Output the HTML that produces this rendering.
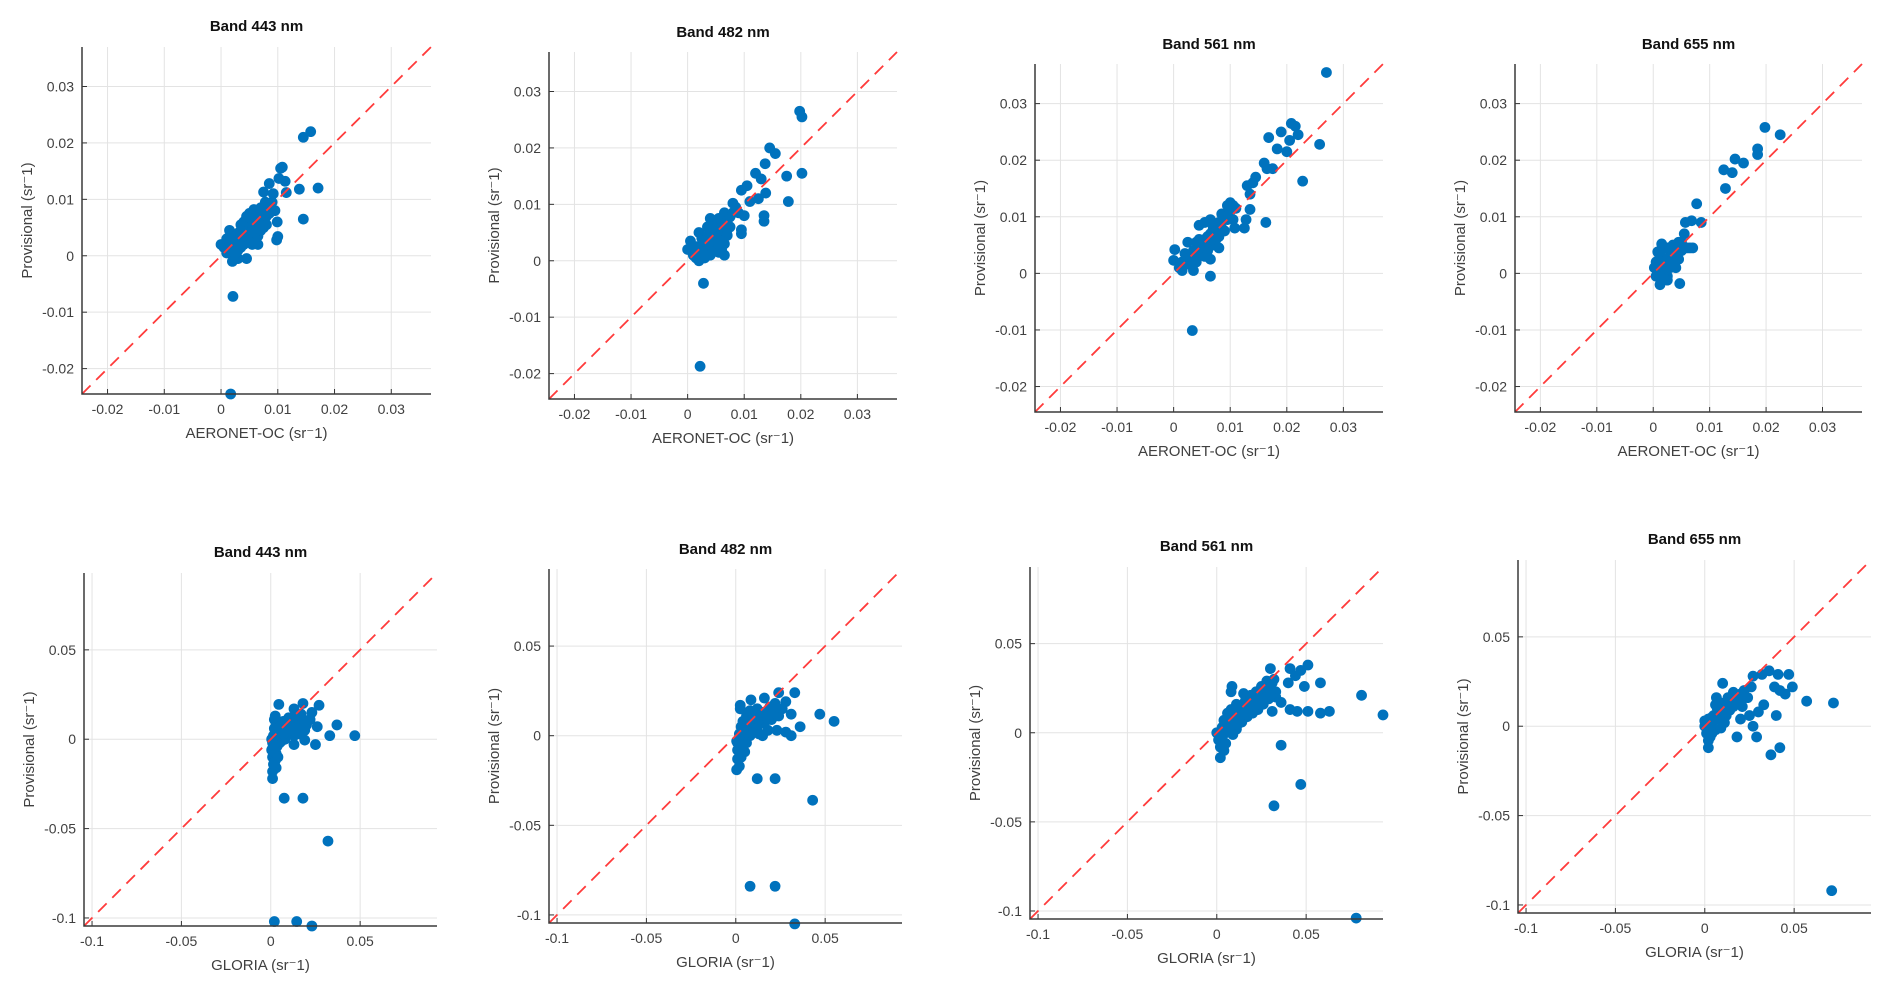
<!DOCTYPE html>
<html><head><meta charset="utf-8"><title>Band scatter comparison</title>
<style>
html,body{margin:0;padding:0;background:#fff;}
svg{display:block;font-family:"Liberation Sans",Arial,sans-serif;}
</style></head>
<body>
<svg id="fig" width="1892" height="994" viewBox="0 0 1892 994" xmlns="http://www.w3.org/2000/svg"></svg>
<script>
// ---- data (x = reference, y = provisional) ----
const bandNames = ["Band 443 nm","Band 482 nm","Band 561 nm","Band 655 nm"];
const topTicks = [-0.02,-0.01,0,0.01,0.02,0.03];
const topTickLabels = ["-0.02","-0.01","0","0.01","0.02","0.03"];
const bottomTicks = [-0.1,-0.05,0,0.05];
const bottomTickLabels = ["-0.1","-0.05","0","0.05"];

const aeronet443 = [[0.0145,0.021],[0.0158,0.022],[0.0105,0.0155],[0.0108,0.0157],[0.0113,0.0132],[0.0102,0.0137],[0.0115,0.0112],[0.0138,0.0118],[0.0171,0.012],[0.0145,0.0065],[0.0098,0.0028],[0.01,0.0034],[0.0099,0.006],[0.0021,-0.0072],[0.0017,-0.0245],[0.0085,0.0128],[0.0075,0.0113],[0.0092,0.011],
[0,0.002],[0.0005,0.0015],[0.001,0.001],[0.001,0.003],[0.0015,0.0025],[0.002,0.0005],[0.002,-0.001],[0.0025,0.002],[0.003,0.004],[0.003,0.001],[0.0035,0.003],[0.004,0.005],[0.004,0.002],[0.0045,0.0035],[0.005,0.006],[0.005,0.004],[0.0055,0.002],[0.006,0.005],[0.006,0.0075],[0.0065,0.0035],[0.007,0.006],[0.007,0.0085],[0.0075,0.005],[0.008,0.007],[0.0085,0.009],[0.0095,0.008],[0.0045,-0.0005],[0.003,-0.0005],[0.0015,0.0045],[0.0035,0.0055],[0.005,0.0075],[0.0065,0.002],[0.0055,0.0065],[0.0025,0.0035],[0.004,0.006],[0.001,0.0005],[0.0078,0.0095],[0.0058,0.0082],
[0.002,0.003],[0.0035,0.0015],[0.0045,0.005],[0.0055,0.0045],[0.006,0.003],[0.007,0.0045],[0.0075,0.007],[0.008,0.0055],[0.0085,0.0075],[0.005,0.0025],[0.004,0.0035],[0.003,0.0025],[0.0025,0.0005],[0.0065,0.006],[0.0045,0.007],[0.0035,0.0045],[0.0015,0.001],[0.009,0.0095],[0.0068,0.0072],[0.0055,0.0055]];
const aeronet482 = [[0.0198,0.0265],[0.0202,0.0255],[0.0145,0.02],[0.0155,0.019],[0.0137,0.0172],[0.0175,0.015],[0.0202,0.0155],[0.0178,0.0105],[0.0135,0.008],[0.0135,0.007],[0.0095,0.0055],[0.0095,0.0048],[0.012,0.0155],[0.013,0.0145],[0.0138,0.012],[0.0125,0.011],[0.011,0.0105],[0.0095,0.0125],[0.0105,0.0133],[0.008,0.0102],[0.01,0.008],[0.0028,-0.004],[0.0022,-0.0187],
[0,0.002],[0.0005,0.0035],[0.001,0.001],[0.0015,0.0005],[0.002,0],[0.002,0.0025],[0.0025,0.004],[0.002,0.005],[0.003,0.002],[0.003,0.0005],[0.0035,0.003],[0.004,0.005],[0.004,0.0075],[0.0045,0.002],[0.005,0.006],[0.005,0.0035],[0.0055,0.0075],[0.006,0.005],[0.0065,0.003],[0.0065,0.0085],[0.007,0.007],[0.0075,0.006],[0.0065,0.001],[0.006,0.002],[0.0045,0.0045],[0.0035,0.006],[0.0085,0.0095],[0.009,0.0085],[0.0055,0.0015],
[0.0025,0.0015],[0.0035,0.0045],[0.0045,0.0035],[0.0055,0.005],[0.006,0.0065],[0.007,0.0045],[0.0075,0.0078],[0.004,0.001],[0.005,0.0045],[0.003,0.0035],[0.0015,0.0025],[0.006,0.0035],[0.0055,0.003],[0.0045,0.006],[0.008,0.0085],[0.007,0.0055]];
const aeronet561 = [[0.027,0.0355],[0.0208,0.0265],[0.0215,0.026],[0.019,0.025],[0.0168,0.024],[0.0205,0.0235],[0.022,0.0245],[0.0258,0.0228],[0.0183,0.022],[0.02,0.0215],[0.0228,0.0163],[0.016,0.0195],[0.0165,0.0185],[0.0175,0.0185],[0.0145,0.017],[0.013,0.0155],[0.014,0.016],[0.0135,0.014],[0.0135,0.0113],[0.0163,0.009],[0.0128,0.0095],[0.0125,0.008],[0.01,0.0125],[0.0095,0.012],[0.011,0.0115],[0.0105,0.0095],[0.0085,0.0105],[0.0065,-0.0005],[0.0033,-0.0101],[0.0108,0.008],
[0.0002,0.0042],[0,0.0023],[0.001,0.001],[0.0015,0.0005],[0.002,0.002],[0.002,0.0035],[0.0025,0.0055],[0.003,0.003],[0.0035,0.0005],[0.004,0.004],[0.004,0.002],[0.0045,0.006],[0.005,0.005],[0.0055,0.009],[0.0055,0.003],[0.006,0.0065],[0.0065,0.0025],[0.007,0.008],[0.007,0.005],[0.0075,0.006],[0.008,0.0045],[0.008,0.009],[0.009,0.0075],[0.0095,0.0095],[0.0045,0.0085],[0.003,0.0015],[0.006,0.004],[0.0065,0.0095],
[0.0025,0.0025],[0.0035,0.004],[0.005,0.0035],[0.006,0.0055],[0.0065,0.007],[0.0075,0.0075],[0.008,0.0065],[0.0085,0.008],[0.009,0.01],[0.01,0.011],[0.0105,0.012],[0.004,0.0055],[0.0035,0.0025],[0.0045,0.0045],[0.0055,0.006],[0.007,0.0065],[0.0015,0.002]];
const aeronet655 = [[0.0198,0.0258],[0.0225,0.0245],[0.0185,0.022],[0.0185,0.021],[0.0145,0.0202],[0.016,0.0195],[0.0125,0.0183],[0.014,0.0178],[0.0128,0.015],[0.0077,0.0123],[0.0057,0.009],[0.0068,0.0093],[0.0085,0.009],[0.0047,-0.0018],[0.007,0.0045],[0.0055,0.007],
[0.0002,0.001],[0.0005,0.002],[0.0005,-0.0005],[0.001,0.0035],[0.001,0],[0.0012,-0.002],[0.0015,0.0015],[0.002,0.0025],[0.002,0.0005],[0.0025,0.0045],[0.0025,-0.0005],[0.003,0.003],[0.003,0.001],[0.0035,0.005],[0.0035,0.002],[0.004,0.0035],[0.004,0.001],[0.0045,0.0055],[0.005,0.004],[0.0055,0.0045],[0.0015,0.0052],[0.0008,0.0038],[0.0025,-0.0012],[0.0045,0.0025],
[0.001,0.002],[0.0015,0.003],[0.002,0.0015],[0.0025,0.0025],[0.003,0.002],[0.0035,0.0035],[0.004,0.0045],[0.0045,0.004],[0.005,0.0055],[0.006,0.0045],[0.0065,0.0045],[0.0005,0.0008],[0.002,-0.001],[0.003,0.0045],[0.0015,-0.0008]];
const gloria443 = [[0.0045,0.0195],[0.018,0.02],[0.027,0.019],[0.0025,0.013],[0.013,0.017],[0.023,0.015],[0.026,0.007],[0.037,0.008],[0.033,0.002],[0.047,0.002],[0.025,-0.003],[0.019,-0.0005],[0.013,-0.003],[0.0075,-0.033],[0.018,-0.033],[0.032,-0.057],[0.002,-0.102],[0.0145,-0.102],[0.023,-0.1045],
[0.001,-0.022],[0.001,-0.018],[0.0015,-0.014],[0.003,-0.016],[0.001,-0.01],[0.0005,-0.006],[0.002,-0.007],[0.001,-0.002],[0.0015,0.002],[0.002,0.006],[0.003,0.009],[0.002,0.011],[0.004,0.003],[0.005,-0.002],[0.005,0.007],[0.006,0.004],[0.007,0.01],[0.008,0],[0.009,0.006],[0.01,0.003],[0.011,0.008],[0.012,0.012],[0.014,0.006],[0.015,0.01],[0.016,0.003],[0.017,0.014],[0.02,0.008],[0.022,0.011],[0.019,0.005],[0.0035,-0.004],[0.006,-0.001],[0.0005,0],[0.003,0.001],[0.008,0.005],[0.013,0.002],[0.01,0.012],[0.0025,-0.012],
[0.001,-0.005],[0.002,-0.003],[0.003,-0.008],[0.002,0.002],[0.004,0.006],[0.006,0.008],[0.007,0.003],[0.009,0.01],[0.011,0.005],[0.012,0.009],[0.014,0.012],[0.016,0.008],[0.018,0.011],[0.004,-0.01],[0.002,-0.014]];
const gloria482 = [[0.033,0.024],[0.024,0.024],[0.0085,0.02],[0.016,0.021],[0.0025,0.017],[0.0025,0.015],[0.022,0.018],[0.028,0.019],[0.031,0.012],[0.047,0.012],[0.055,0.008],[0.036,0.005],[0.023,0.003],[0.028,0.002],[0.031,0],[0.012,-0.024],[0.022,-0.024],[0.043,-0.036],[0.008,-0.084],[0.022,-0.084],[0.033,-0.105],
[0.0005,-0.019],[0.002,-0.017],[0.001,-0.013],[0.003,-0.012],[0.001,-0.008],[0.0005,-0.003],[0.003,-0.006],[0.005,-0.009],[0.002,0.001],[0.003,0.005],[0.004,0.008],[0.005,0.002],[0.006,0.011],[0.007,0.005],[0.008,0],[0.009,0.009],[0.01,0.004],[0.011,0.012],[0.012,0.007],[0.013,0.001],[0.014,0.011],[0.016,0.007],[0.017,0.013],[0.018,0.003],[0.019,0.016],[0.02,0.009],[0.021,0.013],[0.015,0],[0.006,-0.004],[0.004,-0.001],[0.008,0.014],[0.012,0.015],[0.024,0.011],[0.026,0.015],
[0.001,-0.004],[0.002,-0.009],[0.004,0.003],[0.006,0.006],[0.008,0.008],[0.01,0.01],[0.012,0.004],[0.013,0.009],[0.015,0.013],[0.016,0.011],[0.018,0.009],[0.002,-0.002],[0.004,-0.005]];
const gloria561 = [[0.0085,0.026],[0.008,0.023],[0.015,0.022],[0.03,0.036],[0.041,0.036],[0.047,0.035],[0.051,0.038],[0.044,0.032],[0.04,0.028],[0.058,0.028],[0.049,0.026],[0.081,0.021],[0.093,0.01],[0.063,0.012],[0.058,0.011],[0.051,0.012],[0.045,0.012],[0.041,0.013],[0.036,0.017],[0.033,0.02],[0.031,0.012],[0.036,-0.007],[0.047,-0.029],[0.032,-0.041],[0.078,-0.104],
[0,0],[0.001,-0.004],[0.002,-0.008],[0.002,-0.014],[0.004,-0.01],[0.005,-0.006],[0.003,0.003],[0.005,0.005],[0.005,0],[0.007,0.009],[0.007,0.003],[0.009,0.006],[0.01,0.012],[0.011,0.002],[0.012,0.009],[0.013,0.015],[0.014,0.006],[0.015,0.012],[0.016,0.018],[0.017,0.009],[0.018,0.014],[0.019,0.021],[0.02,0.011],[0.021,0.017],[0.022,0.023],[0.023,0.013],[0.024,0.02],[0.025,0.026],[0.026,0.016],[0.027,0.022],[0.028,0.029],[0.029,0.019],[0.03,0.025],[0.032,0.03],[0.033,0.023],[0.011,0.016],[0.008,0.013],[0.006,0.011],[0.009,-0.001],[0.004,0.007],
[0.003,-0.002],[0.006,0.002],[0.008,0.004],[0.01,0.007],[0.012,0.005],[0.014,0.01],[0.016,0.014],[0.018,0.017],[0.02,0.015],[0.022,0.019],[0.024,0.016],[0.026,0.021],[0.028,0.024],[0.03,0.021],[0.031,0.028],[0.013,0.012],[0.017,0.012]];
const gloria655 = [[0.01,0.024],[0.0065,0.016],[0.027,0.028],[0.036,0.031],[0.032,0.029],[0.041,0.029],[0.047,0.029],[0.049,0.022],[0.045,0.018],[0.042,0.02],[0.039,0.022],[0.057,0.014],[0.072,0.013],[0.033,0.012],[0.03,0.008],[0.04,0.006],[0.027,0],[0.018,-0.006],[0.029,-0.006],[0.037,-0.016],[0.042,-0.012],[0.071,-0.092],[0.025,0.006],[0.02,0.004],
[0,0],[0.001,-0.004],[0.002,-0.008],[0.002,-0.012],[0.003,-0.006],[0,0.003],[0.002,0.004],[0.004,0.001],[0.005,0.006],[0.006,-0.002],[0.007,0.01],[0.008,0.004],[0.009,0.013],[0.01,0.007],[0.011,0.002],[0.012,0.011],[0.013,0.016],[0.014,0.009],[0.015,0.014],[0.016,0.019],[0.017,0.012],[0.018,0.016],[0.02,0.018],[0.021,0.011],[0.022,0.02],[0.024,0.016],[0.006,0.012],[0.004,-0.004],[0.009,-0.001],[0.026,0.022],
[0.001,0.001],[0.003,-0.002],[0.004,0.005],[0.006,0.004],[0.008,0.008],[0.01,0.011],[0.012,0.006],[0.014,0.013],[0.016,0.011],[0.019,0.014],[0.003,0.002],[0.002,-0.005]];

// ---- layout ----
const panels = [
 {d:aeronet443,band:0,top:true, L:82,  R:431, T:47, B:394, ty:26},
 {d:aeronet482,band:1,top:true, L:549, R:897, T:52, B:399, ty:32},
 {d:aeronet561,band:2,top:true, L:1035,R:1383,T:64, B:412, ty:44},
 {d:aeronet655,band:3,top:true, L:1515,R:1862,T:64, B:412, ty:44},
 {d:gloria443, band:0,top:false,L:84,  R:437, T:573,B:926, ty:552},
 {d:gloria482, band:1,top:false,L:549, R:902, T:569,B:923, ty:549},
 {d:gloria561, band:2,top:false,L:1030,R:1383,T:567,B:919, ty:546},
 {d:gloria655, band:3,top:false,L:1518,R:1871,T:560,B:913, ty:539}
];
const NS="http://www.w3.org/2000/svg";
const svg=document.getElementById('fig');
function mk(tag,attrs,parent){const e=document.createElementNS(NS,tag);for(const k in attrs)e.setAttribute(k,attrs[k]);parent.appendChild(e);return e;}

panels.forEach((p,pi)=>{
  const lo = p.top ? -0.0245 : -0.1045;
  const hi = p.top ? 0.037 : 0.093;
  const sx = v => p.L + (v-lo)/(hi-lo)*(p.R-p.L);
  const sy = v => p.B - (v-lo)/(hi-lo)*(p.B-p.T);
  const ticks = p.top ? topTicks : bottomTicks;
  const labs = p.top ? topTickLabels : bottomTickLabels;
  const g=mk('g',{},svg);
  
  
  ticks.forEach((t,i)=>{
    const gx=mk('line',{x1:sx(t),x2:sx(t),y1:p.T,y2:p.B,stroke:'#e3e3e3','stroke-width':1},g);
    
    
    const gy=mk('line',{x1:p.L,x2:p.R,y1:sy(t),y2:sy(t),stroke:'#e3e3e3','stroke-width':1},g);
    
    
    mk('line',{x1:sx(t),x2:sx(t),y1:p.B,y2:p.B-5,stroke:'#333','stroke-width':1},g);
    mk('line',{x1:p.L,x2:p.L+5,y1:sy(t),y2:sy(t),stroke:'#333','stroke-width':1},g);
    const xl=mk('text',{x:sx(t),y:p.B+20,'text-anchor':'middle','font-size':14,fill:'#404040'},g);
    xl.textContent=labs[i];
    
    
    const yl=mk('text',{x:p.L-8,y:sy(t)+5,'text-anchor':'end','font-size':14,fill:'#404040'},g);
    yl.textContent=labs[i];
    
    
  });
  p.d.forEach(pt=>{
    const c=mk('circle',{cx:sx(pt[0]),cy:sy(pt[1]),r:5.4,fill:'#0072BD'},g);
    
    
  });
  const l=mk('line',{x1:sx(lo),y1:sy(lo),x2:sx(hi),y2:sy(hi),stroke:'#ff3b3b','stroke-width':1.8,'stroke-dasharray':'12 8'},g);
  
  
  const ax=mk('path',{d:`M${p.L},${p.T}V${p.B}H${p.R}`,fill:'none',stroke:'#3a3a3a','stroke-width':1.5},g);
  
  
  const tt=mk('text',{x:(p.L+p.R)/2,y:p.ty+5,'text-anchor':'middle','font-size':15,'font-weight':'bold',fill:'#111'},g);
  tt.textContent=bandNames[p.band];
  
  
  const xt=mk('text',{x:(p.L+p.R)/2,y:p.B+44,'text-anchor':'middle','font-size':15,fill:'#404040'},g);
  xt.textContent=(p.top?'AERONET-OC':'GLORIA')+' (sr\u207B1)';
  
  
  const yc=(p.T+p.B)/2, yx=p.L-50;
  const yt=mk('text',{x:yx,y:yc,'text-anchor':'middle','font-size':15,fill:'#404040',transform:`rotate(-90 ${yx} ${yc})`},g);
  yt.textContent='Provisional (sr\u207B1)';
  
  
});
</script>
</body></html>
